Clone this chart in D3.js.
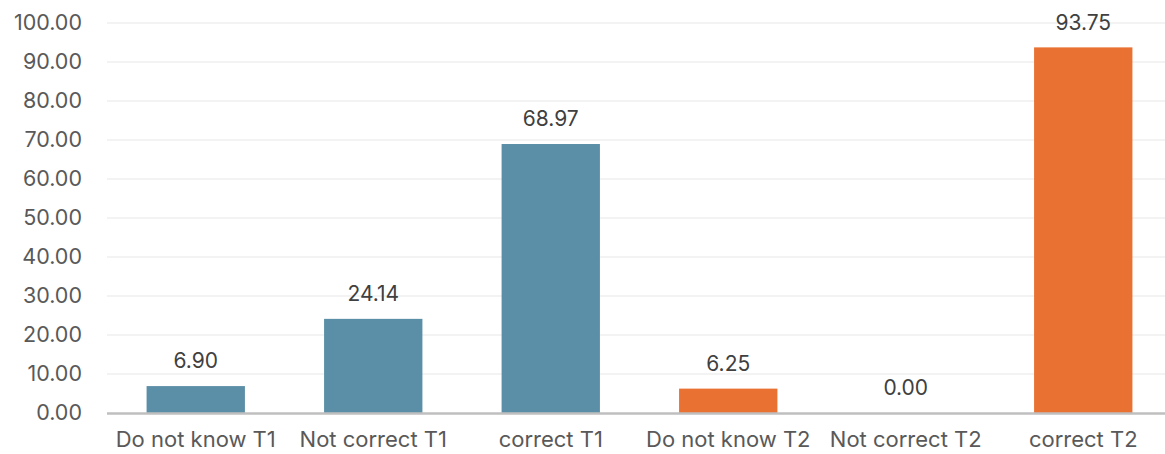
<!DOCTYPE html>
<html>
<head>
<meta charset="utf-8">
<script src="https://cdn.jsdelivr.net/npm/d3@7"></script>
<style>
  html, body { margin: 0; padding: 0; background: #ffffff; }
  svg { display: block; font-family: "Inter", "Open Sans", sans-serif; }
</style>
</head>
<body>
<svg id="chart" width="1165" height="454"></svg>
<script>
// Response categories and their percentages
const categories = ["Do not know T1", "Not correct T1", "correct T1", "Do not know T2", "Not correct T2", "correct T2"];
const values = [6.90, 24.14, 68.97, 6.25, 0.00, 93.75];
const groups = ["T1", "T1", "T1", "T2", "T2", "T2"];
const yTicks = [0, 10, 20, 30, 40, 50, 60, 70, 80, 90, 100];

const colors = { T1: "#5B8FA7", T2: "#E97132" };

const svg = d3.select("#chart");
const margin = { left: 107, right: -7, top: 23, bottom: 41 };
const W = 1165, H = 454;

const x = d3.scaleBand()
  .domain(categories)
  .range([margin.left, W - margin.right])
  .paddingInner(0.446)
  .paddingOuter(0.223);

const y = d3.scaleLinear()
  .domain([0, 100])
  .range([H - margin.bottom, margin.top]);

// Horizontal gridlines
svg.append("g")
  .selectAll("line")
  .data(yTicks.filter(d => d > 0))
  .join("line")
  .attr("x1", margin.left)
  .attr("x2", W - margin.right)
  .attr("y1", d => y(d))
  .attr("y2", d => y(d))
  .attr("stroke", "#efefef")
  .attr("stroke-width", 1.5);

// Y axis labels
const yAxis = d3.axisLeft(y)
  .tickValues(yTicks)
  .tickFormat(d3.format(".2f"))
  .tickSize(0)
  .tickPadding(0);

svg.append("g")
  .attr("transform", `translate(82,0)`)
  .call(yAxis)
  .call(g => g.select(".domain").remove())
  .call(g => g.selectAll("text")
    .attr("fill", "#595959")
    .style("font-size", "21.5px")
    .style("font-family", "Inter, 'Open Sans', sans-serif"));

// Bars
svg.append("g")
  .selectAll("rect")
  .data(values)
  .join("rect")
  .attr("x", (d, i) => x(categories[i]))
  .attr("width", x.bandwidth())
  .attr("y", d => y(d))
  .attr("height", d => y(0) - y(d))
  .attr("fill", (d, i) => colors[groups[i]]);

// Baseline
svg.append("line")
  .attr("x1", margin.left)
  .attr("x2", W - margin.right)
  .attr("y1", y(0) + 0.5)
  .attr("y2", y(0) + 0.5)
  .attr("stroke", "#bfbfbf")
  .attr("stroke-width", 2.5);

// Value labels
svg.append("g")
  .selectAll("text")
  .data(values)
  .join("text")
  .attr("x", (d, i) => x(categories[i]) + x.bandwidth() / 2)
  .attr("y", d => y(d) - 25)
  .attr("dy", "0.35em")
  .attr("text-anchor", "middle")
  .attr("fill", "#404040")
  .style("font-size", "21px")
  .text(d => d3.format(".2f")(d));

// X axis category labels
const xAxis = d3.axisBottom(x).tickSize(0).tickPadding(0);
svg.append("g")
  .attr("transform", `translate(0,${y(0) + 18})`)
  .call(xAxis)
  .call(g => g.select(".domain").remove())
  .call(g => g.selectAll("text")
    .attr("fill", "#595959")
    .attr("dy", "0.71em")
    .style("font-size", "22px")
    .style("font-family", "Inter, 'Open Sans', sans-serif"));
</script>
</body>
</html>
